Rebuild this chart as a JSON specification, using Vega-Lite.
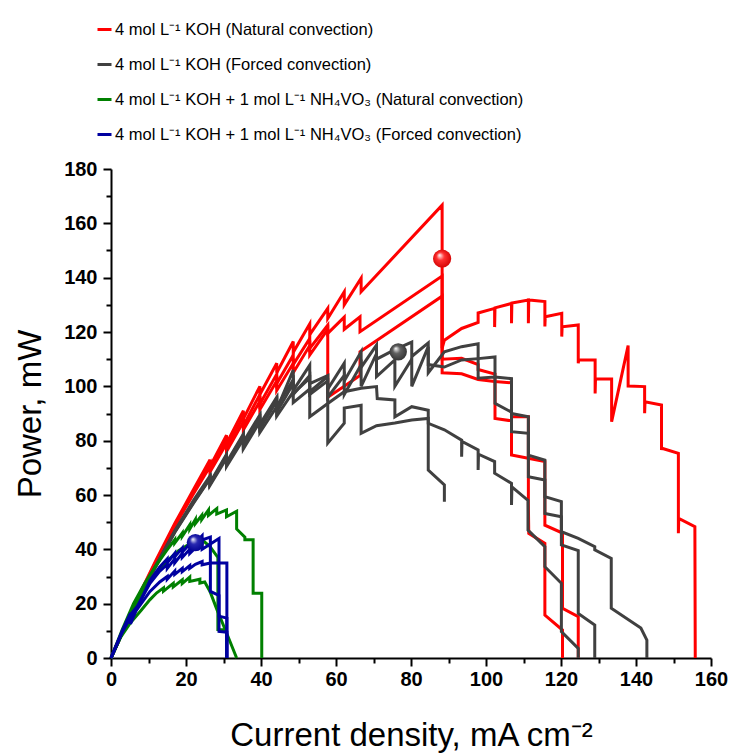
{
"$schema":"https://vega.github.io/schema/vega-lite/v6.json",
"width":600,"height":489,
"autosize":{"type":"none"},
"padding":{"left":111,"top":169,"right":24,"bottom":95},
"background":"white",
"config":{"view":{"stroke":null},"font":"Liberation Sans"},
"datasets":{
"curves":[
{"s":"a","c":"a1","i":0,"x":0,"y":0},{"s":"a","c":"a1","i":1,"x":6,"y":19},{"s":"a","c":"a1","i":2,"x":12,"y":36},{"s":"a","c":"a1","i":3,"x":17,"y":49.5},{"s":"a","c":"a1","i":4,"x":22,"y":62},{"s":"a","c":"a1","i":5,"x":26.4,"y":73},{"s":"a","c":"a1","i":6,"x":26.4,"y":70.5},{"s":"a","c":"a1","i":7,"x":30.8,"y":82},{"s":"a","c":"a1","i":8,"x":30.8,"y":79},{"s":"a","c":"a1","i":9,"x":35.3,"y":91},{"s":"a","c":"a1","i":10,"x":35.3,"y":88},{"s":"a","c":"a1","i":11,"x":39.7,"y":100},{"s":"a","c":"a1","i":12,"x":39.7,"y":97},{"s":"a","c":"a1","i":13,"x":44.2,"y":108.5},{"s":"a","c":"a1","i":14,"x":44.2,"y":105},{"s":"a","c":"a1","i":15,"x":48.6,"y":116.5},{"s":"a","c":"a1","i":16,"x":48.6,"y":112.5},{"s":"a","c":"a1","i":17,"x":53,"y":123},{"s":"a","c":"a1","i":18,"x":53,"y":119},{"s":"a","c":"a1","i":19,"x":57.8,"y":128.7},{"s":"a","c":"a1","i":20,"x":57.8,"y":125},{"s":"a","c":"a1","i":21,"x":62.2,"y":134.8},{"s":"a","c":"a1","i":22,"x":62.2,"y":130},{"s":"a","c":"a1","i":23,"x":66.7,"y":139.8},{"s":"a","c":"a1","i":24,"x":66.7,"y":134.8},{"s":"a","c":"a1","i":25,"x":88.3,"y":166.7},{"s":"a","c":"a1","i":26,"x":88.3,"y":114},{"s":"a","c":"a1","i":27,"x":88.9,"y":117},{"s":"a","c":"a1","i":28,"x":93.5,"y":121.3},{"s":"a","c":"a1","i":29,"x":97.9,"y":123.5},{"s":"a","c":"a1","i":30,"x":97.9,"y":127},{"s":"a","c":"a1","i":31,"x":102.3,"y":128.7},{"s":"a","c":"a1","i":32,"x":102.3,"y":121.8},{"s":"a","c":"a1","i":33,"x":102.4,"y":128.9},{"s":"a","c":"a1","i":34,"x":106.8,"y":130.5},{"s":"a","c":"a1","i":35,"x":106.8,"y":123.2},{"s":"a","c":"a1","i":36,"x":106.9,"y":130.7},{"s":"a","c":"a1","i":37,"x":111.3,"y":131.8},{"s":"a","c":"a1","i":38,"x":111.3,"y":123.2},{"s":"a","c":"a1","i":39,"x":111.4,"y":131.8},{"s":"a","c":"a1","i":40,"x":115.7,"y":131.2},{"s":"a","c":"a1","i":41,"x":115.7,"y":122},{"s":"a","c":"a1","i":42,"x":115.8,"y":125.6},{"s":"a","c":"a1","i":43,"x":120.2,"y":126.9},{"s":"a","c":"a1","i":44,"x":120.2,"y":118.3},{"s":"a","c":"a1","i":45,"x":120.3,"y":121.9},{"s":"a","c":"a1","i":46,"x":124.6,"y":122.6},{"s":"a","c":"a1","i":47,"x":124.6,"y":108.5},{"s":"a","c":"a1","i":48,"x":124.7,"y":109.7},{"s":"a","c":"a1","i":49,"x":129.1,"y":109.7},{"s":"a","c":"a1","i":50,"x":129.1,"y":97.4},{"s":"a","c":"a1","i":51,"x":129.2,"y":102.7},{"s":"a","c":"a1","i":52,"x":133.5,"y":102.7},{"s":"a","c":"a1","i":53,"x":133.5,"y":87},{"s":"a","c":"a1","i":54,"x":137.9,"y":115},{"s":"a","c":"a1","i":55,"x":137.9,"y":100.1},{"s":"a","c":"a1","i":56,"x":142.3,"y":99.9},{"s":"a","c":"a1","i":57,"x":142.3,"y":90.1},{"s":"a","c":"a1","i":58,"x":142.4,"y":94.3},{"s":"a","c":"a1","i":59,"x":146.8,"y":93.1},{"s":"a","c":"a1","i":60,"x":146.8,"y":76.6},{"s":"a","c":"a1","i":61,"x":146.9,"y":77.2},{"s":"a","c":"a1","i":62,"x":151.3,"y":75.3},{"s":"a","c":"a1","i":63,"x":151.3,"y":45.9},{"s":"a","c":"a1","i":64,"x":151.4,"y":51.4},{"s":"a","c":"a1","i":65,"x":155.7,"y":48.3},{"s":"a","c":"a1","i":66,"x":155.8,"y":0},
{"s":"a","c":"a2","i":0,"x":0,"y":0},{"s":"a","c":"a2","i":1,"x":6,"y":18.8},{"s":"a","c":"a2","i":2,"x":12,"y":35.5},{"s":"a","c":"a2","i":3,"x":17,"y":49},{"s":"a","c":"a2","i":4,"x":22,"y":61},{"s":"a","c":"a2","i":5,"x":26.4,"y":71.5},{"s":"a","c":"a2","i":6,"x":26.4,"y":69.5},{"s":"a","c":"a2","i":7,"x":30.8,"y":80.5},{"s":"a","c":"a2","i":8,"x":30.8,"y":77.5},{"s":"a","c":"a2","i":9,"x":35.3,"y":89},{"s":"a","c":"a2","i":10,"x":35.3,"y":85.5},{"s":"a","c":"a2","i":11,"x":39.7,"y":97},{"s":"a","c":"a2","i":12,"x":39.7,"y":93.5},{"s":"a","c":"a2","i":13,"x":44.2,"y":104.5},{"s":"a","c":"a2","i":14,"x":44.2,"y":101},{"s":"a","c":"a2","i":15,"x":48.6,"y":111.5},{"s":"a","c":"a2","i":16,"x":48.6,"y":108},{"s":"a","c":"a2","i":17,"x":53,"y":117.6},{"s":"a","c":"a2","i":18,"x":53,"y":114},{"s":"a","c":"a2","i":19,"x":57.8,"y":122.5},{"s":"a","c":"a2","i":20,"x":57.8,"y":119.5},{"s":"a","c":"a2","i":21,"x":62.2,"y":125.5},{"s":"a","c":"a2","i":22,"x":62.2,"y":121},{"s":"a","c":"a2","i":23,"x":66.4,"y":125.6},{"s":"a","c":"a2","i":24,"x":66.4,"y":120.1},{"s":"a","c":"a2","i":25,"x":88.3,"y":140.6},{"s":"a","c":"a2","i":26,"x":88.3,"y":110},{"s":"a","c":"a2","i":27,"x":93.5,"y":110.3},{"s":"a","c":"a2","i":28,"x":97.9,"y":108},{"s":"a","c":"a2","i":29,"x":97.9,"y":106.2},{"s":"a","c":"a2","i":30,"x":102.4,"y":104.5},{"s":"a","c":"a2","i":31,"x":102.4,"y":88.2},{"s":"a","c":"a2","i":32,"x":106.8,"y":87.3},{"s":"a","c":"a2","i":33,"x":106.8,"y":74.7},{"s":"a","c":"a2","i":34,"x":115.7,"y":72.3},{"s":"a","c":"a2","i":35,"x":115.7,"y":48.9},{"s":"a","c":"a2","i":36,"x":120.4,"y":46},{"s":"a","c":"a2","i":37,"x":120.4,"y":18.3},{"s":"a","c":"a2","i":38,"x":124.6,"y":15.2},{"s":"a","c":"a2","i":39,"x":124.6,"y":0},
{"s":"a","c":"a3","i":0,"x":0,"y":0},{"s":"a","c":"a3","i":1,"x":6,"y":18.6},{"s":"a","c":"a3","i":2,"x":12,"y":35},{"s":"a","c":"a3","i":3,"x":17,"y":48.5},{"s":"a","c":"a3","i":4,"x":22,"y":60.5},{"s":"a","c":"a3","i":5,"x":26.4,"y":70.5},{"s":"a","c":"a3","i":6,"x":26.4,"y":68.5},{"s":"a","c":"a3","i":7,"x":30.8,"y":79},{"s":"a","c":"a3","i":8,"x":30.8,"y":76},{"s":"a","c":"a3","i":9,"x":35.3,"y":87},{"s":"a","c":"a3","i":10,"x":35.3,"y":84},{"s":"a","c":"a3","i":11,"x":39.7,"y":94.5},{"s":"a","c":"a3","i":12,"x":39.7,"y":91.5},{"s":"a","c":"a3","i":13,"x":44.2,"y":102},{"s":"a","c":"a3","i":14,"x":44.2,"y":98.5},{"s":"a","c":"a3","i":15,"x":48.6,"y":108.5},{"s":"a","c":"a3","i":16,"x":48.6,"y":105},{"s":"a","c":"a3","i":17,"x":53,"y":115},{"s":"a","c":"a3","i":18,"x":53,"y":111.5},{"s":"a","c":"a3","i":19,"x":57.8,"y":121},{"s":"a","c":"a3","i":20,"x":57.8,"y":96},{"s":"a","c":"a3","i":21,"x":62.2,"y":100},{"s":"a","c":"a3","i":22,"x":66.4,"y":104},{"s":"a","c":"a3","i":23,"x":66.4,"y":112.7},{"s":"a","c":"a3","i":24,"x":88.3,"y":133.2},{"s":"a","c":"a3","i":25,"x":88.3,"y":105},{"s":"a","c":"a3","i":26,"x":93.5,"y":104.6},{"s":"a","c":"a3","i":27,"x":97.9,"y":102.5},{"s":"a","c":"a3","i":28,"x":102.3,"y":101.8},{"s":"a","c":"a3","i":29,"x":106.8,"y":101.3},{"s":"a","c":"a3","i":30,"x":106.8,"y":88.8},{"s":"a","c":"a3","i":31,"x":111.3,"y":88.8},{"s":"a","c":"a3","i":32,"x":111.3,"y":56.9},{"s":"a","c":"a3","i":33,"x":111.4,"y":45.9},{"s":"a","c":"a3","i":34,"x":115.7,"y":42.2},{"s":"a","c":"a3","i":35,"x":115.7,"y":15.8},{"s":"a","c":"a3","i":36,"x":120.4,"y":10.3},{"s":"a","c":"a3","i":37,"x":120.4,"y":0},
{"s":"b","c":"b1","i":0,"x":0,"y":0},{"s":"b","c":"b1","i":1,"x":6,"y":18.4},{"s":"b","c":"b1","i":2,"x":12,"y":34.2},{"s":"b","c":"b1","i":3,"x":17,"y":46.8},{"s":"b","c":"b1","i":4,"x":22,"y":58},{"s":"b","c":"b1","i":5,"x":26.4,"y":67},{"s":"b","c":"b1","i":6,"x":26.4,"y":64.5},{"s":"b","c":"b1","i":7,"x":30.8,"y":75},{"s":"b","c":"b1","i":8,"x":30.8,"y":72},{"s":"b","c":"b1","i":9,"x":35.3,"y":82.5},{"s":"b","c":"b1","i":10,"x":35.3,"y":79.5},{"s":"b","c":"b1","i":11,"x":39.7,"y":89.5},{"s":"b","c":"b1","i":12,"x":39.7,"y":86},{"s":"b","c":"b1","i":13,"x":44.2,"y":96},{"s":"b","c":"b1","i":14,"x":44.2,"y":92.5},{"s":"b","c":"b1","i":15,"x":48.6,"y":102.5},{"s":"b","c":"b1","i":16,"x":48.6,"y":98.5},{"s":"b","c":"b1","i":17,"x":53,"y":107.8},{"s":"b","c":"b1","i":18,"x":53,"y":101},{"s":"b","c":"b1","i":19,"x":57.8,"y":104},{"s":"b","c":"b1","i":20,"x":57.8,"y":99},{"s":"b","c":"b1","i":21,"x":62.2,"y":108.5},{"s":"b","c":"b1","i":22,"x":62.2,"y":102},{"s":"b","c":"b1","i":23,"x":66.7,"y":112.7},{"s":"b","c":"b1","i":24,"x":66.7,"y":107},{"s":"b","c":"b1","i":25,"x":70.8,"y":115.2},{"s":"b","c":"b1","i":26,"x":70.8,"y":110},{"s":"b","c":"b1","i":27,"x":75.7,"y":113.5},{"s":"b","c":"b1","i":28,"x":80.2,"y":116.3},{"s":"b","c":"b1","i":29,"x":80.2,"y":111},{"s":"b","c":"b1","i":30,"x":84.6,"y":116},{"s":"b","c":"b1","i":31,"x":84.6,"y":108},{"s":"b","c":"b1","i":32,"x":88.9,"y":107.1},{"s":"b","c":"b1","i":33,"x":93.5,"y":109.7},{"s":"b","c":"b1","i":34,"x":97.9,"y":110.2},{"s":"b","c":"b1","i":35,"x":102.4,"y":110.8},{"s":"b","c":"b1","i":36,"x":102.4,"y":93.7},{"s":"b","c":"b1","i":37,"x":106.8,"y":90.5},{"s":"b","c":"b1","i":38,"x":106.8,"y":83.3},{"s":"b","c":"b1","i":39,"x":111.3,"y":82.7},{"s":"b","c":"b1","i":40,"x":111.3,"y":66.7},{"s":"b","c":"b1","i":41,"x":115.7,"y":65.5},{"s":"b","c":"b1","i":42,"x":115.7,"y":53.2},{"s":"b","c":"b1","i":43,"x":120.1,"y":52},{"s":"b","c":"b1","i":44,"x":120.1,"y":41.6},{"s":"b","c":"b1","i":45,"x":124.6,"y":39.5},{"s":"b","c":"b1","i":46,"x":124.6,"y":16.4},{"s":"b","c":"b1","i":47,"x":129,"y":12.1},{"s":"b","c":"b1","i":48,"x":129,"y":0},
{"s":"b","c":"b2","i":0,"x":0,"y":0},{"s":"b","c":"b2","i":1,"x":6,"y":18.3},{"s":"b","c":"b2","i":2,"x":12,"y":34},{"s":"b","c":"b2","i":3,"x":17,"y":46.5},{"s":"b","c":"b2","i":4,"x":22,"y":57.5},{"s":"b","c":"b2","i":5,"x":26.4,"y":66.5},{"s":"b","c":"b2","i":6,"x":26.4,"y":64},{"s":"b","c":"b2","i":7,"x":30.8,"y":74.5},{"s":"b","c":"b2","i":8,"x":30.8,"y":71.5},{"s":"b","c":"b2","i":9,"x":35.3,"y":82},{"s":"b","c":"b2","i":10,"x":35.3,"y":78.5},{"s":"b","c":"b2","i":11,"x":39.7,"y":89},{"s":"b","c":"b2","i":12,"x":39.7,"y":85},{"s":"b","c":"b2","i":13,"x":44.2,"y":95.5},{"s":"b","c":"b2","i":14,"x":44.2,"y":91.5},{"s":"b","c":"b2","i":15,"x":48.6,"y":106},{"s":"b","c":"b2","i":16,"x":48.6,"y":97.4},{"s":"b","c":"b2","i":17,"x":53,"y":103},{"s":"b","c":"b2","i":18,"x":53,"y":97},{"s":"b","c":"b2","i":19,"x":57.8,"y":102},{"s":"b","c":"b2","i":20,"x":57.8,"y":96},{"s":"b","c":"b2","i":21,"x":62.2,"y":104},{"s":"b","c":"b2","i":22,"x":62.2,"y":97},{"s":"b","c":"b2","i":23,"x":66.7,"y":108},{"s":"b","c":"b2","i":24,"x":66.7,"y":100},{"s":"b","c":"b2","i":25,"x":70.8,"y":112},{"s":"b","c":"b2","i":26,"x":70.8,"y":103.6},{"s":"b","c":"b2","i":27,"x":75.7,"y":109.7},{"s":"b","c":"b2","i":28,"x":75.7,"y":100},{"s":"b","c":"b2","i":29,"x":80.2,"y":110},{"s":"b","c":"b2","i":30,"x":80.2,"y":100},{"s":"b","c":"b2","i":31,"x":84.6,"y":114.6},{"s":"b","c":"b2","i":32,"x":84.6,"y":105},{"s":"b","c":"b2","i":33,"x":88.9,"y":112.7},{"s":"b","c":"b2","i":34,"x":93.5,"y":114.6},{"s":"b","c":"b2","i":35,"x":97.9,"y":115.7},{"s":"b","c":"b2","i":36,"x":97.9,"y":103},{"s":"b","c":"b2","i":37,"x":102.4,"y":103.4},{"s":"b","c":"b2","i":38,"x":106.8,"y":102.8},{"s":"b","c":"b2","i":39,"x":106.8,"y":90},{"s":"b","c":"b2","i":40,"x":111.3,"y":88.8},{"s":"b","c":"b2","i":41,"x":111.3,"y":74.7},{"s":"b","c":"b2","i":42,"x":115.7,"y":72.8},{"s":"b","c":"b2","i":43,"x":115.7,"y":59.4},{"s":"b","c":"b2","i":44,"x":120.1,"y":57.6},{"s":"b","c":"b2","i":45,"x":120.1,"y":46.5},{"s":"b","c":"b2","i":46,"x":124.6,"y":44},{"s":"b","c":"b2","i":47,"x":129,"y":41},{"s":"b","c":"b2","i":48,"x":129,"y":39.8},{"s":"b","c":"b2","i":49,"x":133.4,"y":36.7},{"s":"b","c":"b2","i":50,"x":133.4,"y":18.3},{"s":"b","c":"b2","i":51,"x":141.3,"y":11},{"s":"b","c":"b2","i":52,"x":142.9,"y":6.6},{"s":"b","c":"b2","i":53,"x":142.9,"y":0},
{"s":"b","c":"b3","i":0,"x":0,"y":0},{"s":"b","c":"b3","i":1,"x":6,"y":18.2},{"s":"b","c":"b3","i":2,"x":12,"y":33.8},{"s":"b","c":"b3","i":3,"x":17,"y":46.2},{"s":"b","c":"b3","i":4,"x":22,"y":57},{"s":"b","c":"b3","i":5,"x":26.4,"y":66},{"s":"b","c":"b3","i":6,"x":26.4,"y":63.5},{"s":"b","c":"b3","i":7,"x":30.8,"y":73.5},{"s":"b","c":"b3","i":8,"x":30.8,"y":70.5},{"s":"b","c":"b3","i":9,"x":35.3,"y":80.5},{"s":"b","c":"b3","i":10,"x":35.3,"y":77},{"s":"b","c":"b3","i":11,"x":39.7,"y":87},{"s":"b","c":"b3","i":12,"x":39.7,"y":83},{"s":"b","c":"b3","i":13,"x":44.2,"y":92.5},{"s":"b","c":"b3","i":14,"x":44.2,"y":89},{"s":"b","c":"b3","i":15,"x":48.6,"y":98},{"s":"b","c":"b3","i":16,"x":48.6,"y":94},{"s":"b","c":"b3","i":17,"x":53,"y":99},{"s":"b","c":"b3","i":18,"x":53,"y":88.8},{"s":"b","c":"b3","i":19,"x":57.8,"y":93.7},{"s":"b","c":"b3","i":20,"x":62.2,"y":98},{"s":"b","c":"b3","i":21,"x":66.7,"y":99.3},{"s":"b","c":"b3","i":22,"x":70.8,"y":99.9},{"s":"b","c":"b3","i":23,"x":71,"y":95.5},{"s":"b","c":"b3","i":24,"x":75.7,"y":95},{"s":"b","c":"b3","i":25,"x":75.7,"y":88.8},{"s":"b","c":"b3","i":26,"x":80.2,"y":92.5},{"s":"b","c":"b3","i":27,"x":84.6,"y":91.2},{"s":"b","c":"b3","i":28,"x":84.6,"y":86.4},{"s":"b","c":"b3","i":29,"x":88.9,"y":84},{"s":"b","c":"b3","i":30,"x":93.5,"y":80.2},{"s":"b","c":"b3","i":31,"x":93.5,"y":74.1},{"s":"b","c":"b3","i":32,"x":93.6,"y":79.7},{"s":"b","c":"b3","i":33,"x":97.9,"y":76.6},{"s":"b","c":"b3","i":34,"x":97.9,"y":69.2},{"s":"b","c":"b3","i":35,"x":98,"y":75},{"s":"b","c":"b3","i":36,"x":102.3,"y":72.3},{"s":"b","c":"b3","i":37,"x":102.3,"y":68},{"s":"b","c":"b3","i":38,"x":106.8,"y":64.3},{"s":"b","c":"b3","i":39,"x":106.8,"y":56.3},{"s":"b","c":"b3","i":40,"x":106.9,"y":63},{"s":"b","c":"b3","i":41,"x":111.2,"y":58},{"s":"b","c":"b3","i":42,"x":111.2,"y":47.1},{"s":"b","c":"b3","i":43,"x":115.7,"y":41},{"s":"b","c":"b3","i":44,"x":115.7,"y":33.6},{"s":"b","c":"b3","i":45,"x":120.1,"y":27.5},{"s":"b","c":"b3","i":46,"x":120.1,"y":9.7},{"s":"b","c":"b3","i":47,"x":124.6,"y":3.5},{"s":"b","c":"b3","i":48,"x":124.6,"y":0},
{"s":"b","c":"b4","i":0,"x":0,"y":0},{"s":"b","c":"b4","i":1,"x":6,"y":18.3},{"s":"b","c":"b4","i":2,"x":12,"y":34},{"s":"b","c":"b4","i":3,"x":17,"y":46.5},{"s":"b","c":"b4","i":4,"x":22,"y":57.3},{"s":"b","c":"b4","i":5,"x":26.4,"y":66.3},{"s":"b","c":"b4","i":6,"x":26.4,"y":64},{"s":"b","c":"b4","i":7,"x":30.8,"y":74},{"s":"b","c":"b4","i":8,"x":30.8,"y":71},{"s":"b","c":"b4","i":9,"x":35.3,"y":81.5},{"s":"b","c":"b4","i":10,"x":35.3,"y":78},{"s":"b","c":"b4","i":11,"x":39.7,"y":88},{"s":"b","c":"b4","i":12,"x":39.7,"y":84.5},{"s":"b","c":"b4","i":13,"x":44.2,"y":94.5},{"s":"b","c":"b4","i":14,"x":44.2,"y":90.5},{"s":"b","c":"b4","i":15,"x":48.6,"y":101},{"s":"b","c":"b4","i":16,"x":48.6,"y":97},{"s":"b","c":"b4","i":17,"x":53,"y":104},{"s":"b","c":"b4","i":18,"x":53,"y":98},{"s":"b","c":"b4","i":19,"x":57.8,"y":103.6},{"s":"b","c":"b4","i":20,"x":57.8,"y":79.1},{"s":"b","c":"b4","i":21,"x":62.2,"y":86.4},{"s":"b","c":"b4","i":22,"x":62.2,"y":92},{"s":"b","c":"b4","i":23,"x":66.7,"y":93},{"s":"b","c":"b4","i":24,"x":66.7,"y":82.7},{"s":"b","c":"b4","i":25,"x":70.8,"y":85.5},{"s":"b","c":"b4","i":26,"x":75.7,"y":86.5},{"s":"b","c":"b4","i":27,"x":80.2,"y":87.6},{"s":"b","c":"b4","i":28,"x":84.6,"y":88.2},{"s":"b","c":"b4","i":29,"x":84.6,"y":69.2},{"s":"b","c":"b4","i":30,"x":88.9,"y":63.7},{"s":"b","c":"b4","i":31,"x":88.9,"y":57.5},
{"s":"c","c":"c1","i":0,"x":0,"y":0},{"s":"c","c":"c1","i":1,"x":3,"y":10.5},{"s":"c","c":"c1","i":2,"x":6,"y":20},{"s":"c","c":"c1","i":3,"x":9,"y":27.5},{"s":"c","c":"c1","i":4,"x":12,"y":34},{"s":"c","c":"c1","i":5,"x":14.8,"y":39.5},{"s":"c","c":"c1","i":6,"x":17,"y":43.5},{"s":"c","c":"c1","i":7,"x":17,"y":42.3},{"s":"c","c":"c1","i":8,"x":19,"y":46},{"s":"c","c":"c1","i":9,"x":19,"y":44.8},{"s":"c","c":"c1","i":10,"x":21,"y":49},{"s":"c","c":"c1","i":11,"x":21,"y":47.5},{"s":"c","c":"c1","i":12,"x":22.5,"y":51},{"s":"c","c":"c1","i":13,"x":22.5,"y":49.5},{"s":"c","c":"c1","i":14,"x":24.2,"y":52.5},{"s":"c","c":"c1","i":15,"x":24.2,"y":51},{"s":"c","c":"c1","i":16,"x":26,"y":54.5},{"s":"c","c":"c1","i":17,"x":26,"y":52.5},{"s":"c","c":"c1","i":18,"x":28.2,"y":55},{"s":"c","c":"c1","i":19,"x":28.2,"y":53},{"s":"c","c":"c1","i":20,"x":30.8,"y":54.5},{"s":"c","c":"c1","i":21,"x":30.8,"y":52},{"s":"c","c":"c1","i":22,"x":33.5,"y":54},{"s":"c","c":"c1","i":23,"x":33.5,"y":47.5},{"s":"c","c":"c1","i":24,"x":35.7,"y":44.5},{"s":"c","c":"c1","i":25,"x":35.7,"y":43.5},{"s":"c","c":"c1","i":26,"x":37.9,"y":43.5},{"s":"c","c":"c1","i":27,"x":37.9,"y":23.8},{"s":"c","c":"c1","i":28,"x":40.2,"y":23.8},{"s":"c","c":"c1","i":29,"x":40.2,"y":0},
{"s":"c","c":"c2","i":0,"x":0,"y":0},{"s":"c","c":"c2","i":1,"x":2.5,"y":7.5},{"s":"c","c":"c2","i":2,"x":5.2,"y":13},{"s":"c","c":"c2","i":3,"x":8,"y":17.5},{"s":"c","c":"c2","i":4,"x":10.4,"y":21.5},{"s":"c","c":"c2","i":5,"x":12.2,"y":24},{"s":"c","c":"c2","i":6,"x":14,"y":25.8},{"s":"c","c":"c2","i":7,"x":14,"y":24.6},{"s":"c","c":"c2","i":8,"x":16.6,"y":27.5},{"s":"c","c":"c2","i":9,"x":16.6,"y":26.2},{"s":"c","c":"c2","i":10,"x":19,"y":28.8},{"s":"c","c":"c2","i":11,"x":19,"y":27.4},{"s":"c","c":"c2","i":12,"x":21,"y":29.8},{"s":"c","c":"c2","i":13,"x":21,"y":28.2},{"s":"c","c":"c2","i":14,"x":23.7,"y":29},{"s":"c","c":"c2","i":15,"x":23.7,"y":27.6},{"s":"c","c":"c2","i":16,"x":25,"y":28},{"s":"c","c":"c2","i":17,"x":26.4,"y":24.5},{"s":"c","c":"c2","i":18,"x":28.2,"y":18},{"s":"c","c":"c2","i":19,"x":30.8,"y":9.3},{"s":"c","c":"c2","i":20,"x":33.5,"y":0},
{"s":"c","c":"c3","i":0,"x":0,"y":0},{"s":"c","c":"c3","i":1,"x":6,"y":18.5},{"s":"c","c":"c3","i":2,"x":10.4,"y":28.5},{"s":"c","c":"c3","i":3,"x":14.8,"y":35.5},{"s":"c","c":"c3","i":4,"x":18,"y":39.5},{"s":"c","c":"c3","i":5,"x":21,"y":42},{"s":"c","c":"c3","i":6,"x":22.5,"y":43},{"s":"c","c":"c3","i":7,"x":24.3,"y":43.5},{"s":"c","c":"c3","i":8,"x":26.4,"y":41},{"s":"c","c":"c3","i":9,"x":28.5,"y":37},{"s":"c","c":"c3","i":10,"x":28.5,"y":10.5},{"s":"c","c":"c3","i":11,"x":30.8,"y":10.3},{"s":"c","c":"c3","i":12,"x":30.8,"y":0},
{"s":"d","c":"d1","i":0,"x":0,"y":0},{"s":"d","c":"d1","i":1,"x":3,"y":10},{"s":"d","c":"d1","i":2,"x":5.2,"y":16.5},{"s":"d","c":"d1","i":3,"x":5.2,"y":12.5},{"s":"d","c":"d1","i":4,"x":7,"y":18.5},{"s":"d","c":"d1","i":5,"x":10.4,"y":28.5},{"s":"d","c":"d1","i":6,"x":13,"y":33.5},{"s":"d","c":"d1","i":7,"x":15,"y":36.5},{"s":"d","c":"d1","i":8,"x":15,"y":35},{"s":"d","c":"d1","i":9,"x":17,"y":38.5},{"s":"d","c":"d1","i":10,"x":17,"y":37.3},{"s":"d","c":"d1","i":11,"x":19,"y":40.5},{"s":"d","c":"d1","i":12,"x":19,"y":39},{"s":"d","c":"d1","i":13,"x":21,"y":42},{"s":"d","c":"d1","i":14,"x":21,"y":40.5},{"s":"d","c":"d1","i":15,"x":22.5,"y":42.5},{"s":"d","c":"d1","i":16,"x":24.3,"y":45},{"s":"d","c":"d1","i":17,"x":24.3,"y":43.5},{"s":"d","c":"d1","i":18,"x":26.5,"y":44.5},{"s":"d","c":"d1","i":19,"x":26.5,"y":24.5},{"s":"d","c":"d1","i":20,"x":28.8,"y":23},{"s":"d","c":"d1","i":21,"x":28.8,"y":15.4},{"s":"d","c":"d1","i":22,"x":30.9,"y":14.7},{"s":"d","c":"d1","i":23,"x":30.9,"y":0},
{"s":"d","c":"d2","i":0,"x":0,"y":0},{"s":"d","c":"d2","i":1,"x":3,"y":9.8},{"s":"d","c":"d2","i":2,"x":5.2,"y":16},{"s":"d","c":"d2","i":3,"x":7,"y":19},{"s":"d","c":"d2","i":4,"x":10.4,"y":27.5},{"s":"d","c":"d2","i":5,"x":13,"y":32},{"s":"d","c":"d2","i":6,"x":15,"y":34.5},{"s":"d","c":"d2","i":7,"x":15,"y":33},{"s":"d","c":"d2","i":8,"x":17,"y":36.5},{"s":"d","c":"d2","i":9,"x":17,"y":35},{"s":"d","c":"d2","i":10,"x":19,"y":38.5},{"s":"d","c":"d2","i":11,"x":19,"y":37},{"s":"d","c":"d2","i":12,"x":21,"y":40},{"s":"d","c":"d2","i":13,"x":21,"y":38.5},{"s":"d","c":"d2","i":14,"x":22.5,"y":40.5},{"s":"d","c":"d2","i":15,"x":24.3,"y":41.5},{"s":"d","c":"d2","i":16,"x":24.3,"y":40},{"s":"d","c":"d2","i":17,"x":26.5,"y":42},{"s":"d","c":"d2","i":18,"x":28.8,"y":44},{"s":"d","c":"d2","i":19,"x":28.8,"y":9.8},{"s":"d","c":"d2","i":20,"x":30.9,"y":9.5},{"s":"d","c":"d2","i":21,"x":30.9,"y":0},
{"s":"d","c":"d3","i":0,"x":0,"y":0},{"s":"d","c":"d3","i":1,"x":3,"y":9.5},{"s":"d","c":"d3","i":2,"x":5.2,"y":15},{"s":"d","c":"d3","i":3,"x":7,"y":18},{"s":"d","c":"d3","i":4,"x":10.4,"y":24.5},{"s":"d","c":"d3","i":5,"x":13,"y":28},{"s":"d","c":"d3","i":6,"x":15,"y":30},{"s":"d","c":"d3","i":7,"x":15,"y":29},{"s":"d","c":"d3","i":8,"x":17,"y":32},{"s":"d","c":"d3","i":9,"x":17,"y":30.8},{"s":"d","c":"d3","i":10,"x":19,"y":33},{"s":"d","c":"d3","i":11,"x":19,"y":31.8},{"s":"d","c":"d3","i":12,"x":21,"y":34},{"s":"d","c":"d3","i":13,"x":21,"y":33},{"s":"d","c":"d3","i":14,"x":22.5,"y":34.5},{"s":"d","c":"d3","i":15,"x":24.3,"y":35.5},{"s":"d","c":"d3","i":16,"x":24.3,"y":34.3},{"s":"d","c":"d3","i":17,"x":26.5,"y":35},{"s":"d","c":"d3","i":18,"x":28.8,"y":35},{"s":"d","c":"d3","i":19,"x":30.9,"y":35},{"s":"d","c":"d3","i":20,"x":30.9,"y":0}
],
"balls":[{"s":"a","x":88.3,"y":147},{"s":"b","x":76.6,"y":112.7},{"s":"d","x":22.5,"y":42.5}]
},
"encoding":{
"x":{"field":"x","type":"quantitative","scale":{"domain":[0,160],"nice":false},
"axis":{"values":[0,10,20,30,40,50,60,70,80,90,100,110,120,130,140,150,160],"labelExpr":"datum.value % 20 === 0 ? datum.label : ''","grid":false,"domainColor":"black","domainWidth":2,"tickColor":"black","tickWidth":2,"tickSize":{"condition":{"test":"datum.value % 20 === 0","value":8},"value":5},"labelFont":"Liberation Sans","labelFontWeight":"bold","labelFontSize":20,"labelColor":"black","labelPadding":3,"labelFlush":false,"labelOverlap":false,"title":"Current density, mA cm⁻²","titleFont":"Liberation Sans","titleFontSize":33,"titleFontWeight":"normal","titleColor":"black","titlePadding":30}},
"y":{"field":"y","type":"quantitative","scale":{"domain":[0,180],"nice":false},
"axis":{"values":[0,10,20,30,40,50,60,70,80,90,100,110,120,130,140,150,160,170,180],"labelExpr":"datum.value % 20 === 0 ? datum.label : ''","grid":false,"domainColor":"black","domainWidth":2,"tickColor":"black","tickWidth":2,"tickSize":{"condition":{"test":"datum.value % 20 === 0","value":8},"value":5},"labelFont":"Liberation Sans","labelFontWeight":"bold","labelFontSize":20,"labelColor":"black","labelPadding":6,"labelFlush":false,"labelOverlap":false,"title":"Power, mW","titleFont":"Liberation Sans","titleFontSize":33,"titleFontWeight":"normal","titleColor":"black","titlePadding":16}}
},
"layer":[
{"data":{"name":"curves"},
"mark":{"type":"line","strokeWidth":3,"strokeJoin":"miter","strokeCap":"butt"},
"encoding":{
"color":{"field":"s","type":"nominal","scale":{"domain":["a","b","c","d"],"range":["#ff0000","#404040","#008000","#0000a0"]},
"legend":{"orient":"none","legendX":-15,"legendY":-148,"title":null,"padding":0,"symbolType":"stroke","symbolSize":196,"symbolStrokeWidth":3,"labelFont":"Liberation Sans","labelFontSize":16.5,"labelColor":"black","labelOffset":2,"labelLimit":700,"rowPadding":18,
"labelExpr":"{'a':'4 mol L⁻¹ KOH (Natural convection)','b':'4 mol L⁻¹ KOH (Forced convection)','c':'4 mol L⁻¹ KOH + 1 mol L⁻¹ NH₄VO₃ (Natural convection)','d':'4 mol L⁻¹ KOH + 1 mol L⁻¹ NH₄VO₃ (Forced convection)'}[datum.value]"}},
"detail":{"field":"c","type":"nominal"},
"order":{"field":"i","type":"quantitative"}}},
{"data":{"name":"balls"},"transform":[{"filter":"datum.s === 'a'"}],
"mark":{"type":"point","filled":true,"size":330,"opacity":1,"shape":"circle","strokeWidth":0,
"fill":{"gradient":"radial","x1":0.35,"y1":0.3,"r1":0,"x2":0.5,"y2":0.5,"r2":0.55,"stops":[{"offset":0,"color":"#ffffff"},{"offset":0.4,"color":"#ff3030"},{"offset":1,"color":"#d00000"}]}}},
{"data":{"name":"balls"},"transform":[{"filter":"datum.s === 'b'"}],
"mark":{"type":"point","filled":true,"size":300,"opacity":1,"shape":"circle","strokeWidth":0,
"fill":{"gradient":"radial","x1":0.35,"y1":0.3,"r1":0,"x2":0.5,"y2":0.5,"r2":0.55,"stops":[{"offset":0,"color":"#ffffff"},{"offset":0.4,"color":"#606060"},{"offset":1,"color":"#303030"}]}}},
{"data":{"name":"balls"},"transform":[{"filter":"datum.s === 'd'"}],
"mark":{"type":"point","filled":true,"size":300,"opacity":1,"shape":"circle","strokeWidth":0,
"fill":{"gradient":"radial","x1":0.35,"y1":0.3,"r1":0,"x2":0.5,"y2":0.5,"r2":0.55,"stops":[{"offset":0,"color":"#ffffff"},{"offset":0.4,"color":"#2828b0"},{"offset":1,"color":"#000090"}]}}}
]
}
